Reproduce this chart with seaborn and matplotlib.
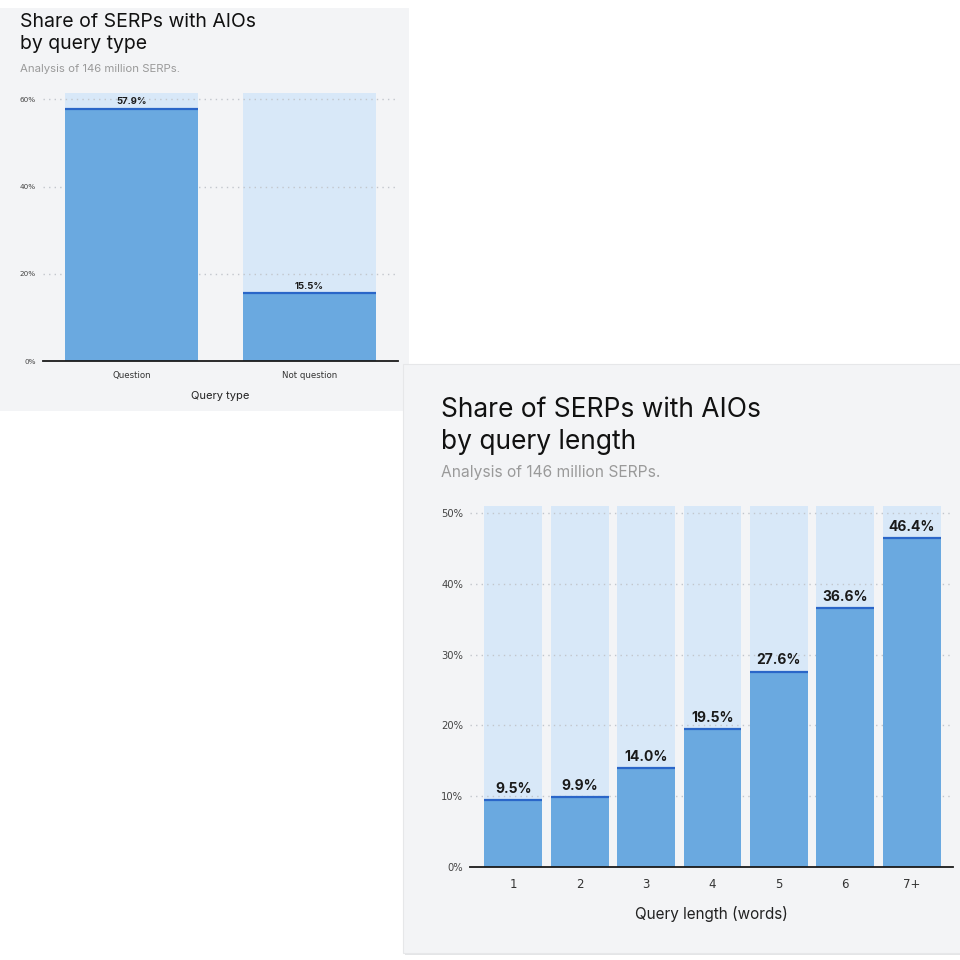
import matplotlib
matplotlib.use("Agg")
import matplotlib.pyplot as plt
from matplotlib.patches import Rectangle
import seaborn as sns

# data
type_categories = ["Question", "Not question"]
type_values = [57.9, 15.5]
type_ceiling = [61.4, 61.4]
type_yticks = [0, 20, 40, 60]

length_categories = ["1", "2", "3", "4", "5", "6", "7+"]
length_values = [9.5, 9.9, 14.0, 19.5, 27.6, 36.6, 46.4]
length_ceiling = [51.0] * 7
length_yticks = [0, 10, 20, 30, 40, 50]

subtitle = "Analysis of 146 million SERPs."

# styles
panel_bg = "#f3f4f6"
bar_bg = "#d8e8f8"
bar_fg = "#6aa9e0"
bar_top = "#2a66c8"
grid_col = "#c2c6cc"
tick_col = "#444444"
sub_col = "#9a9a9a"
W = H = 960

sns.set_theme(style="white")
plt.rcParams["font.family"] = ["Inter", "DejaVu Sans"]

fig = plt.figure(figsize=(9.6, 9.6), dpi=100, facecolor="white")


def box(x0, y0, x1, y1):
    # pixel box (top-left origin) -> figure fraction rect
    return [x0 / W, 1 - y1 / H, (x1 - x0) / W, (y1 - y0) / H]


# panel backgrounds
r = box(0, 8, 409, 411)
fig.patches.append(Rectangle((r[0], r[1]), r[2], r[3], transform=fig.transFigure,
                             facecolor=panel_bg, edgecolor="none", zorder=-3))
r = box(403, 364, 962, 953)
fig.patches.append(Rectangle((r[0] + 1.5 / W, r[1] - 1.5 / H), r[2], r[3], transform=fig.transFigure,
                             facecolor="#e4e5e7", edgecolor="none", zorder=-2.5))
fig.patches.append(Rectangle((r[0], r[1]), r[2], r[3], transform=fig.transFigure,
                             facecolor=panel_bg, edgecolor="#e6e7e9", linewidth=0.8, zorder=-2))


def draw_panel(ax, cats, vals, ceiling, yticks, width, ylim, label_size, tick_size,
               xtick_size, xlabel, xlabel_size, lab_pad, xlab_pad, xtick_pad):
    sns.barplot(x=cats, y=ceiling, color=bar_bg, saturation=1, width=width, ax=ax,
                linewidth=0, edgecolor="none", zorder=1)
    n = len(cats)
    sns.barplot(x=cats, y=vals, color=bar_fg, saturation=1, width=width, ax=ax,
                linewidth=0, edgecolor="none", zorder=2)
    for p in ax.patches[n:]:
        ax.plot([p.get_x(), p.get_x() + p.get_width()], [p.get_height()] * 2,
                color=bar_top, lw=1.6, zorder=3, solid_capstyle="butt")
    ax.bar_label(ax.containers[1], labels=[f"{v:.1f}%" for v in vals], padding=lab_pad,
                 fontsize=label_size, fontweight="bold", color="#1a1a1a", zorder=4)
    ax.set_facecolor("none")
    ax.set_ylim(*ylim)
    ax.set_yticks(yticks)
    ax.set_yticklabels([f"{t}%" for t in yticks], family="DejaVu Sans")
    for t in yticks[1:]:
        ax.axhline(t, color=grid_col, lw=1.0, ls=(0, (1, 3)), zorder=1.5)
    for s in ["top", "right", "left"]:
        ax.spines[s].set_visible(False)
    ax.spines["bottom"].set_color("#1a1a1a")
    ax.spines["bottom"].set_linewidth(1.3)
    ax.spines["bottom"].set_zorder(5)
    ax.tick_params(axis="y", length=0, labelsize=tick_size, labelcolor=tick_col, pad=5)
    ax.tick_params(axis="x", length=0, labelsize=xtick_size, labelcolor="#333333", pad=xtick_pad)
    for lab in ax.get_xticklabels():
        lab.set_family("DejaVu Sans")
    ax.set_xlabel(xlabel, fontsize=xlabel_size, color="#222222", labelpad=xlab_pad)
    ax.set_ylabel("")
    ax.grid(False)


# panel 1: query type
ax1 = fig.add_axes(box(43, 361 - 62 * 87.2 / 20, 398, 361))
draw_panel(ax1, type_categories, type_values, type_ceiling, type_yticks, 0.75,
           (0, 62), 6.8, 5.2, 6.2, "Query type", 8, 2, 8, 7)
ax1.set_xlim(-0.5, 1.5)

# panel 2: query length
ax2 = fig.add_axes(box(470, 867 - 52 * 70.8 / 10, 953, 867))
draw_panel(ax2, length_categories, length_values, length_ceiling, length_yticks, 0.87,
           (0, 52), 10, 7.2, 8.5, "Query length (words)", 11, 3, 11, 8)
ax2.set_xlim(-0.65, 6.62)

# titles
fig.text(20 / W, 1 - 13 / H, "Share of SERPs with AIOs\nby query type", fontsize=14,
         color="#111111", va="top", ha="left", linespacing=1.3)
fig.text(20 / W, 1 - 64 / H, subtitle, fontsize=8.2, color=sub_col, va="top", ha="left")
fig.text(441 / W, 1 - 397 / H, "Share of SERPs with AIOs\nby query length", fontsize=19,
         color="#111111", va="top", ha="left", linespacing=1.3)
fig.text(441 / W, 1 - 465 / H, subtitle, fontsize=11.2, color=sub_col, va="top", ha="left")

fig.savefig("out.png", dpi=100, facecolor="white")
